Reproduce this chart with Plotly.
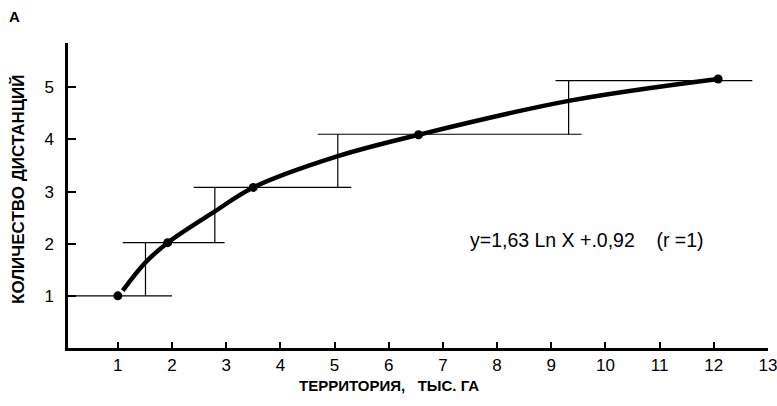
import plotly.graph_objects as go

# Data
point_x = [1.0, 1.92, 3.5, 6.55, 12.08]
point_y = [1.0, 2.02, 3.08, 4.09, 5.16]

curve_x = [1.09, 1.5, 1.92, 2.79, 3.5, 5.06, 6.55, 9.32, 12.08]
curve_y = [1.1, 1.63, 2.02, 2.62, 3.08, 3.68, 4.09, 4.74, 5.16]

# Step guide segments (x0, x1, y) horizontal and (x, y0, y1) vertical
h_x0 = [0.08, 1.09, 2.4, 4.69, 9.08]
h_x1 = [2.0, 2.97, 5.31, 9.56, 12.71]
h_y = [1.0, 2.02, 3.08, 4.1, 5.13]
v_x = [1.51, 2.79, 5.06, 9.32]
v_y0 = [1.0, 2.02, 3.08, 4.1]
v_y1 = [2.02, 3.08, 4.1, 5.13]

x_ticks = list(range(1, 14))
y_ticks = [1, 2, 3, 4, 5]

fig = go.Figure()

seg_x, seg_y = [], []
for a, b, y in zip(h_x0, h_x1, h_y):
    seg_x += [a, b, None]
    seg_y += [y, y, None]
for x, a, b in zip(v_x, v_y0, v_y1):
    seg_x += [x, x, None]
    seg_y += [a, b, None]
fig.add_trace(go.Scatter(x=seg_x, y=seg_y, mode="lines",
                         line=dict(color="black", width=1.2), hoverinfo="skip"))

fig.add_trace(go.Scatter(x=curve_x, y=curve_y, mode="lines",
                         line=dict(color="black", width=4.5, shape="spline", smoothing=1.0)))
fig.add_trace(go.Scatter(x=point_x, y=point_y, mode="markers",
                         marker=dict(color="black", size=9)))

font_family = "Liberation Sans, Arial, sans-serif"

W, H = 777, 406
L, R, T, B = 68, 9, 43, 58
pw, ph = W - L - R, H - T - B


def px(xp):
    return (xp - L) / pw


def py(yp):
    return (H - B - yp) / ph


def ann(text, xp, yp, size, angle=0):
    return dict(text=text, x=px(xp), y=py(yp), xref="paper", yref="paper",
                xanchor="center", yanchor="middle", showarrow=False,
                textangle=angle, font=dict(size=size, family=font_family, color="black"))


fig.update_layout(
    width=W, height=H,
    margin=dict(l=L, r=R, t=T, b=B, autoexpand=False),
    paper_bgcolor="white", plot_bgcolor="white",
    showlegend=False,
    font=dict(family=font_family, color="black"),
    xaxis=dict(range=[0.08, 13.0], tickvals=x_ticks, ticktext=[str(v) for v in x_ticks],
               showgrid=False, zeroline=False, showline=True, linecolor="black", linewidth=2.5,
               ticks="inside", ticklen=6, tickwidth=1.5, tickcolor="black",
               ticklabeloverflow="allow", automargin=False,
               tickfont=dict(size=17, family=font_family, color="black")),
    yaxis=dict(range=[0, 5.85], tickvals=y_ticks, ticktext=[str(v) for v in y_ticks],
               showgrid=False, zeroline=False, showline=True, linecolor="black", linewidth=2.5,
               ticks="inside", ticklen=8, tickwidth=1.5, tickcolor="black",
               automargin=False, ticklabelstandoff=8,
               tickfont=dict(size=17, family=font_family, color="black")),
    annotations=[
        ann("<b>А</b>", 15, 17, 15),
        ann("<b>КОЛИЧЕСТВО ДИСТАНЦИЙ</b>", 18, 189, 17, -90),
        ann("<b>ТЕРРИТОРИЯ,   ТЫС. ГА</b>", 389, 385, 15),
        ann("y=1,63 Ln X +.0,92    (r =1)", 587, 240, 19.5),
    ],
)

fig.write_html("out.html")
